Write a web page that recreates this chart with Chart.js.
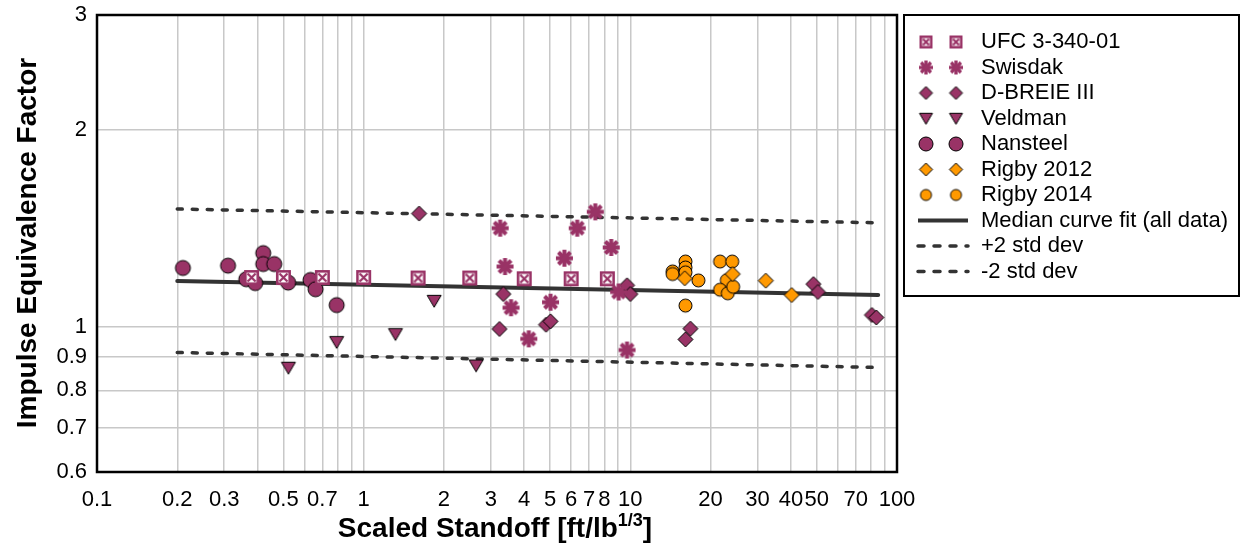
<!DOCTYPE html>
<html>
<head>
<meta charset="utf-8">
<script src="https://cdn.jsdelivr.net/npm/chart.js@4.4.0/dist/chart.umd.min.js"></script>
<style>
html, body { margin: 0; padding: 0; background: #fff; }
</style>
</head>
<body>
<canvas id="myChart" width="1244" height="543"></canvas>
<script>
// tick values
var xGrid = [0.1,0.2,0.3,0.4,0.5,0.6,0.7,0.8,0.9,1,2,3,4,5,6,7,8,9,10,20,30,40,50,60,70,80,90,100];
var xLabels = [0.1,0.2,0.3,0.5,0.7,1,2,3,4,5,6,7,8,10,20,30,40,50,70,100];
var yTicks = [0.6,0.7,0.8,0.9,1,2,3];

// series
var ufcX = [0.38, 0.5, 0.7, 1, 1.6, 2.5, 4, 6, 8.2];
var ufcY = [1.19, 1.19, 1.19, 1.19, 1.188, 1.188, 1.185, 1.185, 1.185];
var swisX = [3.25, 3.39, 3.57, 4.16, 5.02, 5.66, 6.32, 7.39, 8.48, 9.04, 9.72];
var swisY = [1.416, 1.237, 1.070, 0.959, 1.091, 1.274, 1.416, 1.500, 1.323, 1.131, 0.922];
var dbX = [1.614, 3.34, 3.23, 4.83, 5.02, 9.72, 10.0, 16.8, 16.1, 48.6, 50.5, 80.5, 83.6];
var dbY = [1.491, 1.123, 0.993, 1.008, 1.020, 1.158, 1.123, 0.994, 0.957, 1.163, 1.131, 1.043, 1.034];
var veldX = [0.522, 0.792, 1.316, 1.838, 2.64];
var veldY = [0.866, 0.948, 0.975, 1.096, 0.873];
var nanX = [0.210, 0.310, 0.363, 0.392, 0.420, 0.420, 0.462, 0.521, 0.632, 0.660, 0.792];
var nanY = [1.231, 1.241, 1.183, 1.167, 1.297, 1.248, 1.248, 1.169, 1.180, 1.142, 1.080];
var r12X = [16.0, 24.2, 32.2, 40.3];
var r12Y = [1.187, 1.205, 1.177, 1.119];
var r14X = [14.4, 14.4, 16.1, 16.1, 16.1, 18.0, 16.1, 21.7, 24.1, 23.0, 21.7, 23.2, 24.3];
var r14Y = [1.216, 1.205, 1.259, 1.233, 1.212, 1.178, 1.078, 1.259, 1.259, 1.179, 1.140, 1.126, 1.152];
var fitX = [0.2, 85];
var medianY = [1.176, 1.119];
var plusY = [1.515, 1.443];
var minusY = [0.914, 0.867];

var plum = '#993366';
var orange = '#ff9900';
var font = '"Liberation Sans", Arial, sans-serif';

function pts(xs, ys) {
    return xs.map(function (x, i) { return { x: x, y: ys[i] }; });
}

// marker pictures
function marker(kind, size, color) {
    var c = document.createElement('canvas');
    var s = Math.ceil(size + 4);
    c.width = s; c.height = s;
    var g = c.getContext('2d');
    var m = s / 2, r = size / 2;
    g.lineWidth = 1;
    g.strokeStyle = '#000';
    g.fillStyle = color;
    if (kind == 'box') {
        g.lineWidth = 2.6;
        g.strokeStyle = color;
        g.fillStyle = '#fff';
        g.fillRect(m - r, m - r, size, size);
        g.strokeRect(m - r + 1.3, m - r + 1.3, size - 2.6, size - 2.6);
        g.lineWidth = 2.2;
        g.beginPath();
        g.moveTo(m - r + 3.5, m - r + 3.5); g.lineTo(m + r - 3.5, m + r - 3.5);
        g.moveTo(m + r - 3.5, m - r + 3.5); g.lineTo(m - r + 3.5, m + r - 3.5);
        g.stroke();
    } else if (kind == 'star') {
        g.strokeStyle = color;
        g.lineWidth = size / 4.2;
        for (var k = 0; k < 4; k++) {
            var a = k * Math.PI / 4;
            g.beginPath();
            g.moveTo(m - Math.cos(a) * r, m - Math.sin(a) * r);
            g.lineTo(m + Math.cos(a) * r, m + Math.sin(a) * r);
            g.stroke();
        }
    } else if (kind == 'diamond') {
        g.beginPath();
        g.moveTo(m, m - r); g.lineTo(m + r, m); g.lineTo(m, m + r); g.lineTo(m - r, m);
        g.closePath(); g.fill(); g.stroke();
    } else if (kind == 'tri') {
        g.beginPath();
        g.moveTo(m - r, m - r * 0.8); g.lineTo(m + r, m - r * 0.8); g.lineTo(m, m + r * 0.9);
        g.closePath(); g.fill(); g.stroke();
    } else {
        g.beginPath();
        g.arc(m, m, r, 0, Math.PI * 2);
        g.fill(); g.stroke();
    }
    return c;
}

var series = [
    { label: 'UFC 3-340-01', x: ufcX, y: ufcY, kind: 'box', color: plum, size: 15, lsize: 13 },
    { label: 'Swisdak', x: swisX, y: swisY, kind: 'star', color: plum, size: 17, lsize: 14 },
    { label: 'D-BREIE III', x: dbX, y: dbY, kind: 'diamond', color: plum, size: 15, lsize: 13 },
    { label: 'Veldman', x: veldX, y: veldY, kind: 'tri', color: plum, size: 14, lsize: 13 },
    { label: 'Nansteel', x: nanX, y: nanY, kind: 'circle', color: plum, size: 15, lsize: 14 },
    { label: 'Rigby 2012', x: r12X, y: r12Y, kind: 'diamond', color: orange, size: 15, lsize: 13 },
    { label: 'Rigby 2014', x: r14X, y: r14Y, kind: 'circle', color: orange, size: 13, lsize: 11 }
];
var lines = [
    { label: 'Median curve fit (all data)', y: medianY, width: 4, dash: [] },
    { label: '+2 std dev', y: plusY, width: 3.5, dash: [5, 10] },
    { label: '-2 std dev', y: minusY, width: 3.5, dash: [5, 10] }
];

var datasets = [];
series.forEach(function (s) {
    s.img = marker(s.kind, s.size, s.color);
    s.limg = marker(s.kind, s.lsize, s.color);
    datasets.push({
        type: 'scatter',
        label: s.label,
        data: pts(s.x, s.y),
        pointStyle: s.img,
        pointRadius: s.size / 2,
        showLine: false
    });
});
lines.forEach(function (l) {
    datasets.push({
        type: 'line',
        label: l.label,
        data: pts(fitX, l.y),
        borderColor: '#333333',
        borderWidth: l.width,
        borderDash: l.dash,
        borderCapStyle: 'round',
        pointRadius: 0,
        fill: false
    });
});

var decor = {
    id: 'decor',
    afterDraw: function (chart) {
        var c = chart.ctx, a = chart.chartArea;
        c.save();
        c.strokeStyle = '#000';
        c.lineWidth = 2.5;
        c.strokeRect(a.left, a.top, a.right - a.left, a.bottom - a.top);

        // axis titles
        c.fillStyle = '#000';
        c.font = 'bold 28px ' + font;
        c.textBaseline = 'alphabetic';
        var t1 = 'Scaled Standoff [ft/lb';
        var w1 = c.measureText(t1).width;
        c.font = 'bold 18px ' + font;
        var w2 = c.measureText('1/3').width;
        c.font = 'bold 28px ' + font;
        var w3 = c.measureText(']').width;
        var x0 = 495 - (w1 + w2 + w3) / 2;
        c.textAlign = 'left';
        c.fillText(t1, x0, 537);
        c.font = 'bold 18px ' + font;
        c.fillText('1/3', x0 + w1, 526);
        c.font = 'bold 28px ' + font;
        c.fillText(']', x0 + w1 + w2, 537);

        c.translate(36, 243);
        c.rotate(-Math.PI / 2);
        c.textAlign = 'center';
        c.fillText('Impulse Equivalence Factor', 0, 0);
        c.restore();

        // legend box
        c.save();
        c.strokeStyle = '#000';
        c.lineWidth = 2;
        c.strokeRect(904, 15, 335, 281);
        c.font = '22px ' + font;
        c.fillStyle = '#000';
        c.textBaseline = 'middle';
        c.textAlign = 'left';
        var y = 42;
        series.forEach(function (s) {
            var im = s.limg;
            c.drawImage(im, 926 - im.width / 2, y - im.height / 2);
            c.drawImage(im, 956 - im.width / 2, y - im.height / 2);
            c.fillText(s.label, 981, y);
            y += 25.5;
        });
        lines.forEach(function (l) {
            c.strokeStyle = '#333333';
            c.lineWidth = l.width;
            c.lineCap = l.dash.length ? 'round' : 'butt';
            c.setLineDash(l.dash.length ? [6, 10] : []);
            c.beginPath();
            c.moveTo(918, y);
            c.lineTo(968, y);
            c.stroke();
            c.fillText(l.label, 981, y);
            y += 25.5;
        });
        c.restore();
    }
};

var ctx = document.getElementById('myChart').getContext('2d');
var myChart = new Chart(ctx, {
    data: { datasets: datasets },
    options: {
        responsive: false,
        animation: false,
        layout: { padding: { left: 0, top: 15, right: 347, bottom: 0 } },
        plugins: { legend: { display: false }, tooltip: { enabled: false } },
        scales: {
            x: {
                type: 'logarithmic',
                min: 0.1,
                max: 100,
                afterBuildTicks: function (scale) {
                    scale.ticks = xGrid.map(function (v) { return { value: v }; });
                },
                afterFit: function (scale) {
                    scale.height = 71;
                    scale.paddingLeft = 0;
                    scale.paddingRight = 0;
                },
                grid: { color: '#c8c8c8', lineWidth: 1.5, drawTicks: false },
                border: { display: false },
                ticks: {
                    autoSkip: false,
                    maxRotation: 0,
                    padding: 15,
                    color: '#000',
                    font: { family: font, size: 22 },
                    callback: function (v) {
                        return xLabels.indexOf(v) >= 0 ? String(v) : '';
                    }
                }
            },
            y: {
                type: 'logarithmic',
                min: 0.6,
                max: 3,
                afterBuildTicks: function (scale) {
                    scale.ticks = yTicks.map(function (v) { return { value: v }; });
                },
                afterFit: function (scale) {
                    scale.width = 97;
                    scale.paddingTop = 0;
                    scale.paddingBottom = 0;
                },
                grid: { color: '#c8c8c8', lineWidth: 1.5, drawTicks: false },
                border: { display: false },
                ticks: {
                    autoSkip: false,
                    padding: 10,
                    color: '#000',
                    font: { family: font, size: 22 },
                    callback: function (v) { return String(v); }
                }
            }
        }
    },
    plugins: [decor]
});
</script>
</body>
</html>
